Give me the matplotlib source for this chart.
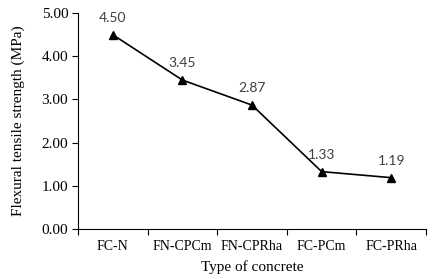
import matplotlib
matplotlib.use("Agg")
import matplotlib.pyplot as plt
from matplotlib.ticker import MultipleLocator, FixedLocator

# data
concretes = ["FC-N", "FN-CPCm", "FN-CPRha", "FC-PCm", "FC-PRha"]
strength = [4.50, 3.45, 2.87, 1.33, 1.19]

fig = plt.figure(figsize=(4.33, 2.79), dpi=100)
ax = fig.add_axes([0.180, 0.179, 0.804, 0.774])

x = list(range(len(concretes)))
ax.plot(x, strength, color="black", linewidth=1.2, marker="^", markersize=6)

# value labels above each point (Calibri-like look)
for xi, v in zip(x, strength):
    ax.annotate(f"{v:.2f}", (xi, v), xytext=(0, 8), textcoords="offset points",
                ha="center", va="bottom", fontsize=10, color="#404040",
                family="Lato")

ax.set_xlim(-0.5, len(concretes) - 0.5)
ax.set_ylim(0, 5)
ax.yaxis.set_major_locator(MultipleLocator(1))
ax.set_yticklabels([f"{t:.2f}" for t in ax.get_yticks()])
ax.set_xticks(x)
ax.set_xticklabels(concretes)
ax.xaxis.set_minor_locator(FixedLocator([i - 0.5 for i in range(len(concretes) + 1)]))
ax.tick_params(axis="x", which="major", length=0, pad=8)
ax.tick_params(axis="x", which="minor", length=4, width=0.8)
ax.tick_params(axis="y", length=4, width=0.8, pad=3)

for lab in ax.get_xticklabels():
    lab.set_family("Liberation Serif")
    lab.set_fontsize(10)
for lab in ax.get_yticklabels():
    lab.set_family("Liberation Serif")
    lab.set_fontsize(11)

ax.spines["top"].set_visible(False)
ax.spines["right"].set_visible(False)
ax.spines["left"].set_linewidth(0.8)
ax.spines["bottom"].set_linewidth(0.8)

ax.set_xlabel("Type of concrete", family="Liberation Serif", fontsize=11, labelpad=5)
ax.set_ylabel("Flexural tensile strength (MPa)", family="Liberation Serif", fontsize=11, labelpad=12)

fig.savefig("out.png", dpi=100)
